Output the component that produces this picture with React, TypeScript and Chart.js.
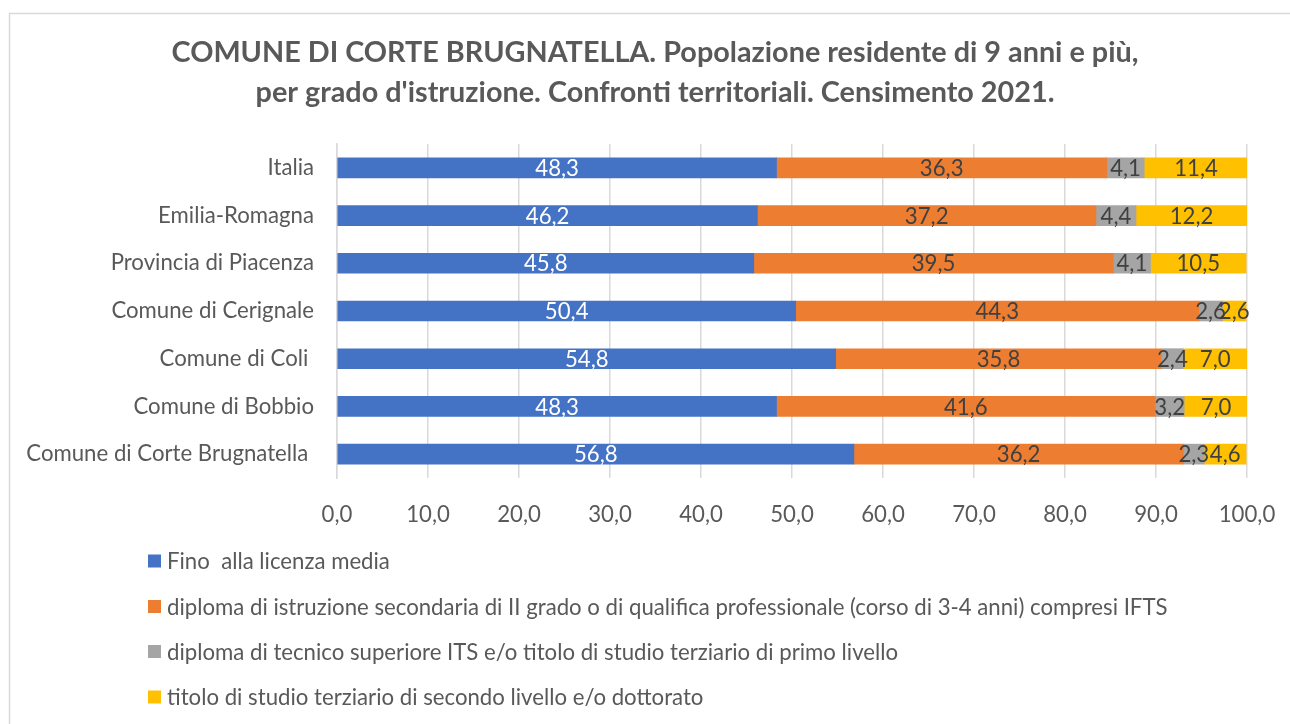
import React, { useEffect, useRef } from "react";
import { Chart, registerables } from "chart.js";

Chart.register(...registerables);

const categories = [
  "Italia",
  "Emilia-Romagna",
  "Provincia di Piacenza",
  "Comune di Cerignale",
  "Comune di Coli ",
  "Comune di Bobbio",
  "Comune di Corte Brugnatella ",
];

const finoLicenzaMedia = [48.3, 46.2, 45.8, 50.4, 54.8, 48.3, 56.8];
const diplomaSecondaria = [36.3, 37.2, 39.5, 44.3, 35.8, 41.6, 36.2];
const diplomaTecnico = [4.1, 4.4, 4.1, 2.6, 2.4, 3.2, 2.3];
const titoloSecondoLivello = [11.4, 12.2, 10.5, 2.6, 7.0, 7.0, 4.6];

const seriesLabels = [
  "Fino  alla licenza media",
  "diploma di istruzione secondaria di II grado o di qualifica professionale (corso di 3-4 anni) compresi IFTS",
  "diploma di tecnico superiore ITS e/o titolo di studio terziario di primo livello",
  "titolo di studio terziario di secondo livello e/o dottorato",
];

const titleLines = [
  "COMUNE DI CORTE BRUGNATELLA. Popolazione residente di 9 anni e più,",
  "per grado d'istruzione. Confronti territoriali. Censimento 2021.",
];

const colors = ["#4472C4", "#ED7D31", "#A5A5A5", "#FFC000"];
const labelColors = ["#FFFFFF", "#404040", "#404040", "#404040"];

const FONT = "Lato, 'Noto Sans', sans-serif";
const TEXT = "#595959";
const FS = 22.2;

const fmt = (v: number) => v.toFixed(1).replace(".", ",");

const decorPlugin = {
  id: "decor",
  beforeDraw(chart: any) {
    const ctx = chart.ctx;
    ctx.save();
    ctx.fillStyle = "#FFFFFF";
    ctx.fillRect(0, 0, chart.width, chart.height);
    ctx.strokeStyle = "#D9D9D9";
    ctx.lineWidth = 1.5;
    ctx.strokeRect(9.5, 13.5, chart.width + 20, chart.height + 20);
    // title
    ctx.fillStyle = TEXT;
    ctx.font = `bold 28.8px ${FONT}`;
    ctx.textAlign = "center";
    ctx.textBaseline = "middle";
    ctx.fillText(titleLines[0], 655, 53);
    ctx.fillText(titleLines[1], 655, 93);
    ctx.restore();
  },
  afterDatasetsDraw(chart: any) {
    const ctx = chart.ctx;
    ctx.save();
    ctx.font = `${FS}px ${FONT}`;
    ctx.textAlign = "center";
    ctx.textBaseline = "middle";
    chart.data.datasets.forEach((ds: any, i: number) => {
      const meta = chart.getDatasetMeta(i);
      ctx.fillStyle = labelColors[i];
      meta.data.forEach((bar: any, j: number) => {
        const cx = (bar.x + bar.base) / 2;
        ctx.fillText(fmt(ds.data[j]), cx, bar.y + 1);
      });
    });
    ctx.restore();
  },
  afterDraw(chart: any) {
    const ctx = chart.ctx;
    ctx.save();
    ctx.font = `${FS}px ${FONT}`;
    ctx.textAlign = "left";
    ctx.textBaseline = "middle";
    const ys = [561, 606.5, 651.5, 697];
    chart.data.datasets.forEach((ds: any, i: number) => {
      const y = ys[i];
      ctx.fillStyle = ds.backgroundColor;
      ctx.fillRect(148, y - 6.5, 13, 13);
      ctx.fillStyle = TEXT;
      ctx.fillText(ds.label, 167, y + 1);
    });
    ctx.restore();
  },
};

export default function App() {
  const ref = useRef<HTMLCanvasElement | null>(null);

  useEffect(() => {
    if (!ref.current) return;
    const data = [finoLicenzaMedia, diplomaSecondaria, diplomaTecnico, titoloSecondoLivello];
    const chart = new Chart(ref.current, {
      type: "bar",
      data: {
        labels: categories,
        datasets: data.map((d, i) => ({
          label: seriesLabels[i],
          data: d,
          backgroundColor: colors[i],
          borderWidth: 0,
          barThickness: 20,
        })),
      },
      options: {
        indexAxis: "y",
        responsive: false,
        animation: false,
        layout: { padding: { left: 0, right: 43, top: 144, bottom: 186 } },
        plugins: {
          legend: { display: false },
          title: { display: false },
          tooltip: { enabled: false },
        },
        scales: {
          x: {
            stacked: true,
            min: 0,
            max: 100,
            ticks: {
              stepSize: 10,
              color: TEXT,
              font: { family: FONT, size: FS },
              padding: 24,
              callback: (v: any) => fmt(Number(v)),
            },
            grid: { color: "#D9D9D9", lineWidth: 1.5, drawTicks: false },
            border: { display: false },
            afterFit: (s: any) => {
              s.height = 60;
              s.paddingLeft = 0;
              s.paddingRight = 0;
            },
          },
          y: {
            stacked: true,
            ticks: {
              color: TEXT,
              font: { family: FONT, size: FS },
              padding: 23,
              autoSkip: false,
            },
            grid: { display: false, drawTicks: false },
            border: { display: true, color: "#D9D9D9", width: 1.5 },
            afterFit: (s: any) => {
              s.width = 337;
              s.paddingTop = 0;
              s.paddingBottom = 0;
            },
          },
        },
      },
      plugins: [decorPlugin],
    });
    return () => chart.destroy();
  }, []);

  return (
    <div style={{ position: "absolute", left: 0, top: 0, width: 1290, height: 724, background: "#fff" }}>
      <canvas ref={ref} width={1290} height={724} />
    </div>
  );
}
